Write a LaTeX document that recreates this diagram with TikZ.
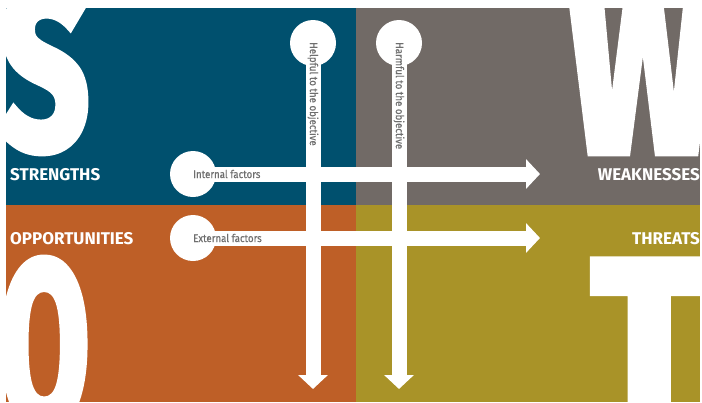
\documentclass[tikz,border=0pt]{standalone}
\usepackage{fontspec}
\setmainfont{Fira Sans}
\newfontfamily\bigfont[FakeBold=4]{Fira Sans}
\newfontfamily\smallfont[FakeStretch=0.88, FakeBold=0.4]{Fira Sans}
\usepackage{tikz}
\usetikzlibrary{arrows.meta}
\definecolor{c00506E}{RGB}{0,80,110}
\definecolor{c716A66}{RGB}{113,106,102}
\definecolor{cBE5F27}{RGB}{190,95,39}
\definecolor{cA99328}{RGB}{169,147,40}
\definecolor{c6E6E6E}{RGB}{110,110,110}
\tikzset{
  hub/.style={circle, fill=white, minimum size=46pt, inner sep=0pt},
  bar/.style={draw=white, line width=15pt, -{Triangle[width=29pt,length=14pt]}},
  factor/.style={text=c6E6E6E, font=\smallfont\fontsize{11}{11}\selectfont, inner sep=0pt},
  quadlabel/.style={text=white, font=\bfseries\fontsize{17}{17}\selectfont, inner sep=0pt},
  bigletter/.style={text=white, inner sep=0pt}
}

\begin{document}
\begin{tikzpicture}[y=1pt,x=1pt,yscale=-1]
  \useasboundingbox[fill=white] (0,0) rectangle (702,402);
  % quadrants
  \path[fill=c00506E] (6,8) rectangle (356,205);
  \path[fill=c716A66] (356,8) rectangle (700,205);
  \path[fill=cBE5F27] (6,205) rectangle (356,402);
  \path[fill=cA99328] (356,205) rectangle (700,402);

  % big letters, cut at the quadrant edges
  \begin{scope}
    \clip (6,8) rectangle (356,205);
    \node[bigletter, anchor=south west] (bigS) at (-1,152)
      {\resizebox{90pt}{161pt}{\bigfont\bfseries S}};
  \end{scope}
  \begin{scope}
    \clip (356,8) rectangle (700,205);
    \node[bigletter, anchor=south west] (bigW) at (569,152)
      {\resizebox{148pt}{161pt}{\bigfont\bfseries W}};
  \end{scope}
  \begin{scope}
    \clip (6,205) rectangle (356,402);
    \node[bigletter, anchor=north west] (bigO) at (-1,259)
      {\resizebox{90pt}{166pt}{\bigfont\bfseries O}};
  \end{scope}
  \begin{scope}
    \clip (356,205) rectangle (700,402);
    \node[bigletter, anchor=north west] (bigT) at (592,261)
      {\resizebox{114pt}{166pt}{\bigfont\bfseries T}};
  \end{scope}

  \node[quadlabel, anchor=west] (str) at (10,175) {STRENGTHS};
  \node[quadlabel, anchor=west] (opp) at (10,239) {OPPORTUNITIES};
  \node[quadlabel, anchor=east] (wea) at (700,175) {WEAKNESSES};
  \node[quadlabel, anchor=east] (thr) at (700,239) {THREATS};

  % arrows
  \node[hub] (helpc) at (313,43) {};
  \node[hub] (harmc) at (399,43) {};
  \node[hub] (intc) at (193,174) {};
  \node[hub] (extc) at (193,238) {};
  \coordinate (helpend) at (313,389);
  \coordinate (harmend) at (399,389);
  \coordinate (intend) at (540,174);
  \coordinate (extend) at (540,238);
  \draw[bar] (helpc.center) -- (helpend);
  \draw[bar] (harmc.center) -- (harmend);
  \draw[bar] (intc.center) -- (intend);
  \draw[bar] (extc.center) -- (extend);

  \node[factor, anchor=west] (intt) at (193,174) {Internal factors};
  \node[factor, anchor=west] (extt) at (193,238) {External factors};
  \node[factor, anchor=west, rotate=-90] (helpt) at (313,42) {Helpful to the objective};
  \node[factor, anchor=west, rotate=-90] (harmt) at (399,42) {Harmful to the objective};
\end{tikzpicture}
\end{document}
